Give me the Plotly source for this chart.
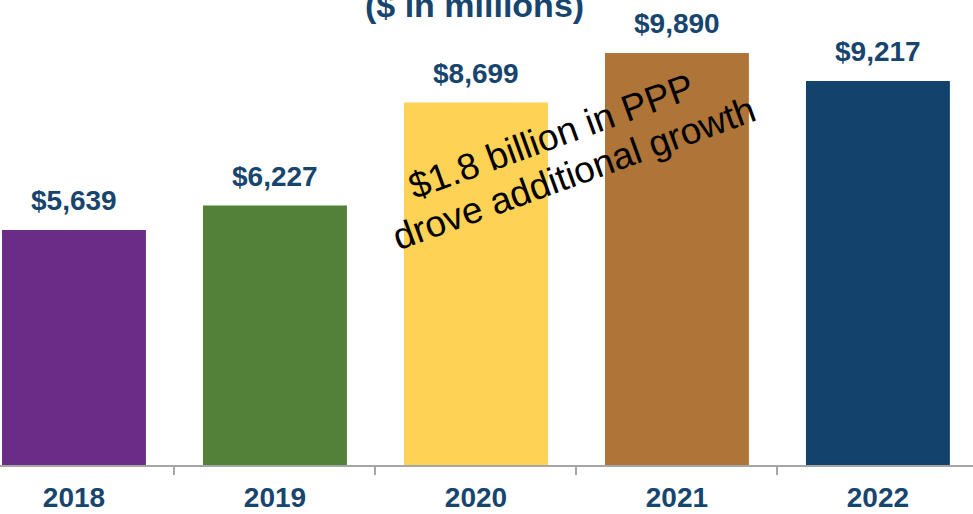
import plotly.graph_objects as go

years = ["2018", "2019", "2020", "2021", "2022"]
values = [5639, 6227, 8699, 9890, 9217]
value_labels = ["$5,639", "$6,227", "$8,699", "$9,890", "$9,217"]
colors = ["#6B2C87", "#548139", "#FED254", "#AE7438", "#13426C"]
title_text = "($ in millions)"
note_lines = ["$1.8 billion in PPP", "drove additional growth"]

FONT = "Liberation Sans, Arial, sans-serif"
NAVY = "#17456E"

fig = go.Figure()
fig.add_trace(go.Bar(
    x=years, y=values, marker=dict(color=colors, line=dict(width=0)),
    width=0.716, hoverinfo="skip"))

for i, (v, lab) in enumerate(zip(values, value_labels)):
    fig.add_annotation(x=i, y=v, xref="x", yref="y", text="<b>%s</b>" % lab,
                       showarrow=False, yanchor="bottom", yshift=12,
                       font=dict(family=FONT, size=28, color=NAVY))

fig.add_annotation(xref="paper", yref="paper", x=0.488, y=0.99,
                   text="<b>%s</b>" % title_text, showarrow=False,
                   yanchor="middle", font=dict(family=FONT, size=34, color=NAVY))

note_pos = [(551 / 973, (465 - 136) / 465), (574 / 973, (465 - 174) / 465)]
for line, (px, py) in zip(note_lines, note_pos):
    fig.add_annotation(xref="paper", yref="paper", x=px, y=py,
                       xanchor="center", yanchor="middle",
                       text=line, showarrow=False, textangle=-20,
                       font=dict(family=FONT, size=37, color="black"))

fig.update_layout(
    width=973, height=514, margin=dict(l=0, r=0, t=0, b=49),
    paper_bgcolor="white", plot_bgcolor="white", showlegend=False,
    xaxis=dict(type="category", range=[-0.368, 4.473], showline=True,
               linecolor="#A6A6A6", linewidth=2, ticks="outside",
               tickson="boundaries", ticklen=8, tickcolor="#A6A6A6",
               tickwidth=2, showgrid=False, ticklabelstandoff=6,
               tickvals=years, ticktext=["<b>%s</b>" % y for y in years],
               tickfont=dict(family=FONT, size=28, color=NAVY)),
    yaxis=dict(range=[0, 11160], showticklabels=False, showgrid=False,
               zeroline=False, showline=False, ticks=""),
)

fig.write_html("out.html")
